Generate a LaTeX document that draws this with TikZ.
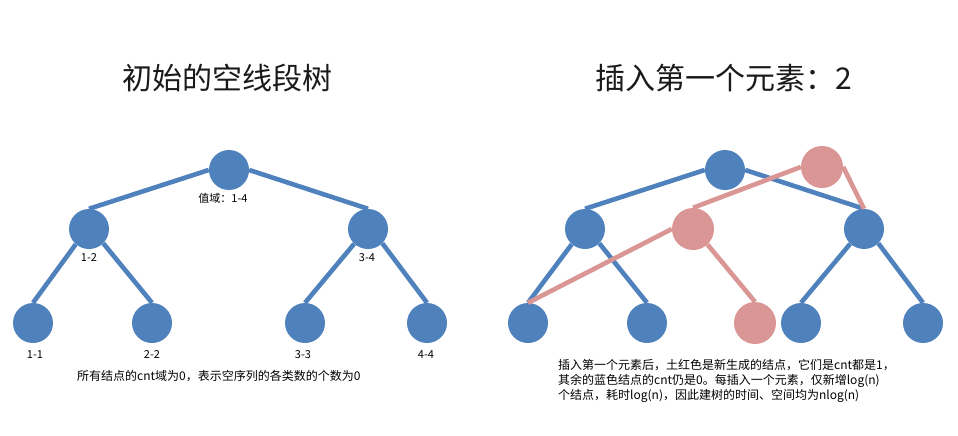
\documentclass[tikz,border=0pt]{standalone}
\usepackage{fontspec}
\setmainfont{Noto Sans CJK SC}
\definecolor{nblue}{HTML}{4F81BD}
\definecolor{nred}{HTML}{D99694}
\definecolor{ttl}{HTML}{1A1A1A}
\begin{document}
\begin{tikzpicture}[x=1pt,y=-1pt,
  bnode/.style={circle,fill=nblue,minimum size=40pt,inner sep=0pt},
  rnode/.style={circle,fill=nred,minimum size=42pt,inner sep=0pt},
  bedge/.style={draw=nblue,line width=4.6pt},
  redge/.style={draw=nred,line width=4.6pt},
  lbl/.style={font=\fontsize{11}{13}\selectfont,inner sep=0pt},
  title/.style={font=\fontsize{30}{36}\selectfont,text=ttl,inner sep=0pt},
  note/.style={font=\fontsize{12}{15}\selectfont,inner sep=0pt,anchor=west,align=left}]
\useasboundingbox (0,0) rectangle (958,436);
\fill[white] (0,0) rectangle (958,436);
% titles
\node[title] (t1) at (227,78) {初始的空线段树};
\node[title] (t2) at (724,78) {插入第一个元素：2};
% left tree
\node[bnode] (a) at (229,170) {};
\node[bnode] (b) at (89,229) {};
\node[bnode] (c) at (368,229) {};
\node[bnode] (d) at (33,323) {};
\node[bnode] (e) at (152,323) {};
\node[bnode] (f) at (305,323) {};
\node[bnode] (g) at (427,323) {};
\draw[bedge] (a.west) -- (b.north);
\draw[bedge] (a.east) -- (c.north);
\draw[bedge] (b.229) -- (d.north);
\draw[bedge] (b.-45) -- (e.north);
\draw[bedge] (c.227) -- (f.north);
\draw[bedge] (c.-45) -- (g.north);
\node[lbl] (la) at (223,198) {值域：1-4};
\node[lbl] (lb) at (89,258) {1-2};
\node[lbl] (lc) at (367,258) {3-4};
\node[lbl] (ld) at (35,355) {1-1};
\node[lbl] (le) at (152,355) {2-2};
\node[lbl] (lf) at (303,355) {3-3};
\node[lbl] (lg) at (426,355) {4-4};
\node[note] (n1) at (77,376) {所有结点的cnt域为0，表示空序列的各类数的个数为0};
% right tree (blue)
\node[bnode] (ra) at (725,170) {};
\node[bnode] (rb) at (585,229) {};
\node[bnode] (rc) at (864,229) {};
\node[bnode] (rd) at (528,323) {};
\node[bnode] (re) at (647,323) {};
\node[bnode] (rf) at (801,323) {};
\node[bnode] (rg) at (923,323) {};
\draw[bedge] (ra.west) -- (rb.north);
\draw[bedge] (ra.east) -- (rc.north);
\draw[bedge] (rb.229) -- (rd.north);
\draw[bedge] (rb.-45) -- (re.north);
\draw[bedge] (rc.227) -- (rf.north);
\draw[bedge] (rc.-45) -- (rg.north);
% right tree (red)
\node[rnode] (xa) at (822,167) {};
\node[rnode] (xb) at (693,229) {};
\node[rnode] (xc) at (755,323) {};
\draw[redge] (xa.west) -- (xb.north);
\draw[redge] (xa.east) -- (rc.north);
\draw[redge] (xb.west) -- (rd.north);
\draw[redge] (xb.-47) -- (xc.north);
\node[note] (n2) at (558,381) {插入第一个元素后，土红色是新生成的结点，它们是cnt都是1，\\其余的蓝色结点的cnt仍是0。每插入一个元素，仅新增log(n)\\个结点，耗时log(n)，因此建树的时间、空间均为nlog(n)};
\end{tikzpicture}
\end{document}
